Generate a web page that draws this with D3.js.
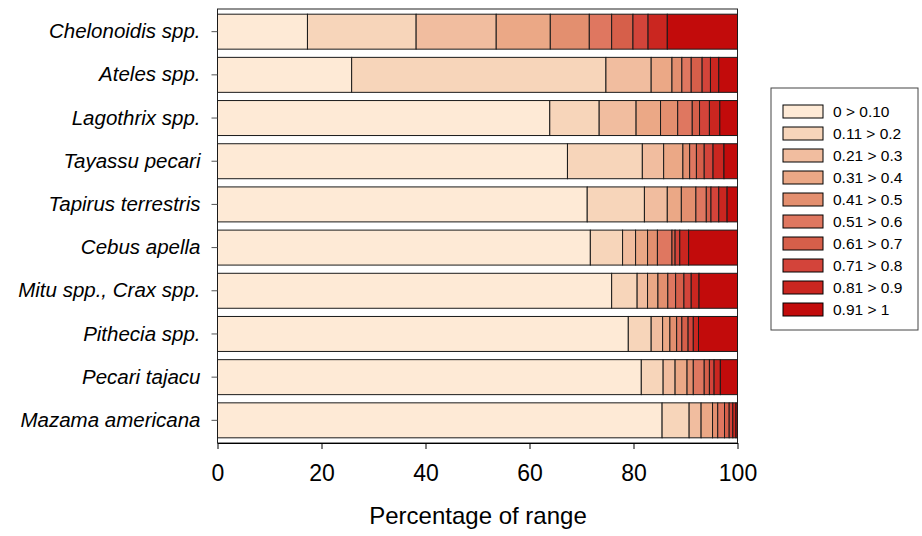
<!DOCTYPE html>
<html>
<head>
<meta charset="utf-8">
<script src="https://d3js.org/d3.v7.min.js"></script>
<style>
    body { margin: 0; background: white; }
    text { font-family: "Liberation Sans", Arial, sans-serif; }
</style>
</head>
<body>
<svg width="922" height="536"></svg>
<script>

// species, top to bottom
const species = ['Chelonoidis spp.', 'Ateles spp.', 'Lagothrix spp.', 'Tayassu pecari',
    'Tapirus terrestris', 'Cebus apella', 'Mitu spp., Crax spp.', 'Pithecia spp.',
    'Pecari tajacu', 'Mazama americana']

// suitability classes (legend)
const classes = ['0 > 0.10', '0.11 > 0.2', '0.21 > 0.3', '0.31 > 0.4', '0.41 > 0.5',
    '0.51 > 0.6', '0.61 > 0.7', '0.71 > 0.8', '0.81 > 0.9', '0.91 > 1']

const colors = ['#feead6', '#f7d5ba', '#f1bd9f', '#eba886', '#e38f6f',
    '#df7760', '#d65f4a', '#d3443a', '#ca2620', '#c20b0b']

// percentage of range in each class, one row per species
const shares = [
    [17.3, 20.9, 15.4, 10.4, 7.5, 4.3, 4.1, 2.9, 3.7, 13.5],
    [25.8, 48.9, 8.7, 4.0, 1.9, 1.8, 2.1, 1.6, 1.6, 3.6],
    [63.9, 9.5, 7.1, 4.7, 3.3, 2.8, 1.4, 1.9, 2.0, 3.4],
    [67.3, 14.4, 4.1, 3.7, 1.3, 1.3, 1.5, 1.7, 2.1, 2.6],
    [71.1, 11.0, 4.4, 2.7, 2.8, 2.0, 0.9, 1.5, 1.6, 2.0],
    [71.7, 6.2, 2.5, 2.3, 1.9, 2.8, 0.6, 0.9, 1.7, 9.4],
    [75.8, 4.9, 2.0, 2.0, 1.9, 1.5, 1.6, 1.4, 1.5, 7.4],
    [79.0, 4.4, 2.2, 1.4, 1.3, 1.0, 1.2, 1.0, 1.0, 7.5],
    [81.5, 4.2, 2.3, 2.3, 1.2, 2.1, 1.0, 0.9, 1.2, 3.3],
    [85.5, 5.2, 2.3, 2.2, 1.0, 1.3, 0.9, 0.7, 0.6, 0.3]
]

const xTicks = [0, 20, 40, 60, 80, 100]

const svg = d3.select('svg')
const plotL = 217.5, plotR = 737.5, plotT = 9, plotB = 443

var x = d3.scaleLinear().domain([0, 100]).range([plotL, plotR])
var y = d3.scaleBand().domain(species).range([plotT, plotB]).paddingInner(0.19).paddingOuter(0.12)

// table for d3.stack
var table = species.map(function(s, i) {
    var row = { species: s }
    classes.forEach(function(c, j) { row[c] = shares[i][j] })
    return row
})
var series = d3.stack().keys(classes)(table)

// frame
svg.append('rect')
    .attr('x', plotL).attr('y', plotT)
    .attr('width', plotR - plotL).attr('height', plotB - plotT)
    .attr('fill', 'none').attr('stroke', '#222').attr('stroke-width', 1)

svg.append('g')
    .selectAll('g')
    .data(series)
    .enter()
    .append('g')
    .attr('fill', function(d, i) { return colors[i] })
    .selectAll('rect')
    .data(function(d) { return d })
    .enter()
    .append('rect')
    .attr('x', function(d) { return x(d[0]) })
    .attr('y', function(d) { return y(d.data.species) })
    .attr('width', function(d) { return x(d[1]) - x(d[0]) })
    .attr('height', y.bandwidth())
    .attr('stroke', '#1a1a1a')
    .attr('stroke-width', 1)

// axes
var xAxis = svg.append('g')
    .attr('transform', 'translate(0,' + plotB + ')')
    .call(d3.axisBottom(x).tickValues(xTicks).tickSize(6).tickSizeOuter(0).tickPadding(16))
xAxis.selectAll('text').style('font-size', '23px').attr('fill', '#000')
xAxis.selectAll('line, path').attr('stroke', '#000')

var yAxis = svg.append('g')
    .attr('transform', 'translate(' + plotL + ',0)')
    .call(d3.axisLeft(y).tickSize(6).tickSizeOuter(0).tickPadding(11))
yAxis.select('.domain').remove()
yAxis.selectAll('text').style('font-size', '20.5px').style('font-style', 'italic').attr('fill', '#000')
yAxis.selectAll('line').attr('stroke', '#555')

svg.append('text')
    .attr('x', 478)
    .attr('y', 524)
    .attr('text-anchor', 'middle')
    .style('font-size', '24px')
    .text('Percentage of range')

// legend
var legend = svg.append('g').attr('transform', 'translate(771,88)')
legend.append('rect')
    .attr('width', 147).attr('height', 242)
    .attr('fill', 'white').attr('stroke', '#444').attr('stroke-width', 1)

var item = legend.selectAll('.item')
    .data(classes)
    .enter()
    .append('g')
    .attr('transform', function(d, i) { return 'translate(12,' + (17 + i * 22) + ')' })
item.append('rect')
    .attr('width', 40).attr('height', 13)
    .attr('fill', function(d, i) { return colors[i] })
    .attr('stroke', '#000')
item.append('text')
    .attr('x', 50).attr('y', 7)
    .attr('dy', '0.35em')
    .style('font-size', '15.5px')
    .text(function(d) { return d })

</script>
</body>
</html>
